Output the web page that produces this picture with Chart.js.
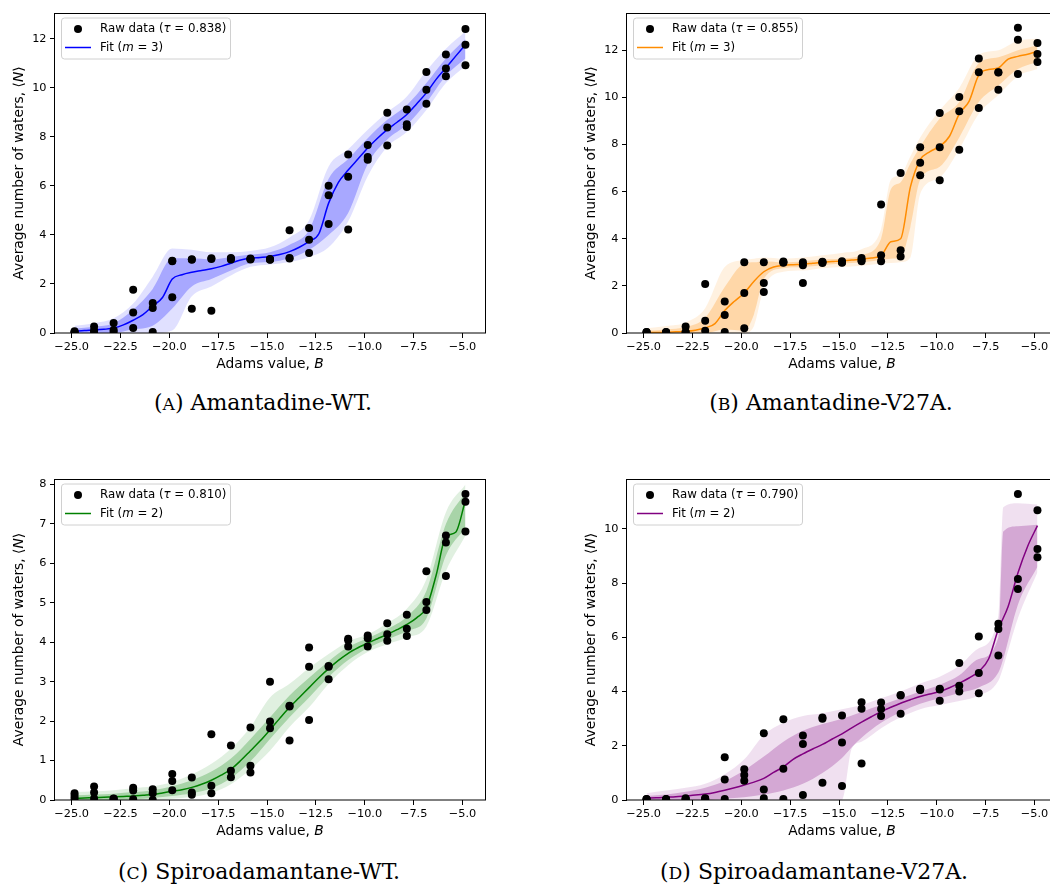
<!DOCTYPE html>
<html>
<head>
<meta charset="utf-8">
<script src="https://cdn.jsdelivr.net/npm/chart.js@4.4.1/dist/chart.umd.min.js"></script>
<style>
  body { margin: 0; background: #fff; width: 1050px; height: 889px; overflow: hidden; position: relative; }
  canvas { position: absolute; }
  .cap { position: absolute; font-family: "DejaVu Serif", serif; font-size: 22px; line-height: 1; color: #000;
         white-space: nowrap; transform: translateX(-50%); }
  .sc { font-size: 0.78em; }
</style>
</head>
<body>
<canvas id="cA" width="490" height="372" style="left:0;top:0"></canvas>
<canvas id="cB" width="490" height="372" style="left:572px;top:0"></canvas>
<canvas id="cC" width="490" height="373" style="left:0;top:466px"></canvas>
<canvas id="cD" width="490" height="373" style="left:572px;top:466px"></canvas>
<div class="cap" style="left:263px;top:392px">(<span class="sc">A</span>) Amantadine-WT.</div>
<div class="cap" style="left:831px;top:392px">(<span class="sc">B</span>) Amantadine-V27A.</div>
<div class="cap" style="left:259px;top:861px">(<span class="sc">C</span>) Spiroadamantane-WT.</div>
<div class="cap" style="left:814px;top:861px">(<span class="sc">D</span>) Spiroadamantane-V27A.</div>
<script>
// Adams values where the simulations were run (three replicates each)
const adamsB = [-24.85, -23.85, -22.85, -21.85, -20.85, -19.85, -18.85, -17.85, -16.85, -15.85, -14.85,
                -13.85, -12.85, -11.85, -10.85, -9.85, -8.85, -7.85, -6.85, -5.85, -4.85];
// finer grid for the fitted curves
const fitX = [-24.85, -24.35, -23.85, -23.35, -22.85, -22.35, -21.85, -21.35, -20.85, -20.35, -19.85,
              -19.35, -18.85, -18.35, -17.85, -17.35, -16.85, -16.35, -15.85, -15.35, -14.85, -14.35,
              -13.85, -13.35, -12.85, -12.35, -11.85, -11.35, -10.85, -10.35, -9.85, -9.35, -8.85,
              -8.35, -7.85, -7.35, -6.85, -6.35, -5.85, -5.35, -4.85];

// (A) Amantadine-WT
const rawA = [[0.07, 0.04, 0.02], [0.27, 0.1, 0.04], [0.41, 0.12, 0.05], [1.77, 0.84, 0.2], [1.22, 1.02, 0.04],
  [2.93, 2.95, 1.46], [2.99, 3.01, 0.99], [3.02, 3.05, 0.91], [3.03, 3.06, 3.0], [3.02, 3.0, 3.04],
  [2.99, 3.0, 3.02], [4.19, 3.06, 3.04], [4.29, 3.81, 3.27], [6.01, 5.62, 4.45], [7.28, 6.38, 4.22],
  [7.67, 7.18, 7.07], [8.99, 8.39, 7.65], [9.12, 8.52, 8.41], [10.65, 9.93, 9.36], [11.37, 10.79, 10.48],
  [12.41, 11.76, 10.93]];
const fitA = [0.07, 0.1, 0.12, 0.15, 0.2, 0.33, 0.52, 0.75, 1.1, 1.45, 2.2, 2.38, 2.48, 2.55, 2.62, 2.72,
  2.85, 2.98, 3.05, 3.08, 3.12, 3.2, 3.32, 3.5, 3.74, 4.05, 5.3, 6.15, 6.65, 7.1, 7.55, 7.95, 8.3, 8.6,
  8.92, 9.35, 9.8, 10.35, 10.82, 11.3, 11.77];
const sig1LoA = [0, 0, 0, 0.15, 0.3, 1.0, 1.9, 2.2, 2.55, 2.85, 2.9, 3.05, 3.4, 4.0, 4.9, 6.9, 7.9, 8.5, 9.4, 10.5, 11.2];
const sig1HiA = [0.18, 0.25, 0.4, 0.95, 1.8, 3.05, 3.05, 3.0, 3.1, 3.2, 3.3, 3.6, 4.2, 6.3, 7.1, 7.95, 8.7, 9.3, 10.2, 11.2, 12.0];
const sig2LoA = [0, 0, 0, 0, 0, 0.1, 1.5, 1.9, 2.35, 2.7, 2.8, 2.9, 3.1, 3.5, 4.55, 6.4, 7.6, 8.2, 9.1, 10.2, 10.9];
const sig2HiA = [0.3, 0.4, 0.6, 1.2, 2.3, 3.45, 3.4, 3.3, 3.3, 3.35, 3.5, 3.9, 4.6, 6.8, 7.5, 8.3, 9.0, 9.65, 10.7, 11.6, 12.3];

// (B) Amantadine-V27A
const rawB = [[0.04, 0.03, 0.02], [0.04, 0.03, 0.02], [0.28, 0.04, 0.03], [2.08, 0.52, 0.1], [1.34, 0.76, 0.04],
  [3.0, 1.7, 0.2], [3.0, 2.12, 1.74], [3.0, 3.03, 2.98], [3.0, 2.87, 2.12], [3.0, 2.97, 3.02],
  [3.04, 2.98, 3.0], [3.18, 3.04, 3.1], [5.45, 3.3, 3.04], [6.79, 3.51, 3.25], [7.88, 7.22, 6.69],
  [9.34, 7.88, 6.48], [10.02, 9.41, 7.78], [11.65, 11.07, 9.55], [11.07, 11.05, 10.32], [12.95, 12.45, 10.99],
  [12.31, 11.84, 11.5]];
const fitB = [0.02, 0.02, 0.03, 0.05, 0.07, 0.12, 0.22, 0.4, 0.95, 1.35, 1.7, 2.2, 2.6, 2.8, 2.87, 2.9,
  2.92, 2.96, 3.0, 3.03, 3.06, 3.1, 3.13, 3.18, 3.28, 3.87, 4.0, 6.2, 7.35, 7.7, 7.92, 8.35, 9.3, 9.83,
  10.95, 11.18, 11.25, 11.62, 11.74, 11.83, 11.96];
const bandXB = [-24.85, -23.85, -22.85, -21.85, -20.85, -19.85, -19.35, -18.85, -17.85, -16.85, -15.85, -14.85,
  -13.85, -12.85, -12.35, -11.85, -11.35, -10.85, -9.85, -8.85, -7.85, -6.85, -5.85, -4.85];
const sig1LoB = [0, 0, 0, 0, 0.15, 0.1, 0.8, 2.3, 2.75, 2.8, 2.88, 2.95, 3.0, 3.1, 3.15, 3.2, 4.5, 6.5, 7.05, 8.3, 9.8, 10.5, 11.2, 11.5];
const sig1HiB = [0.1, 0.15, 0.25, 0.65, 1.95, 2.95, 3.0, 3.05, 3.0, 3.05, 3.12, 3.15, 3.3, 4.0, 6.1, 6.4, 7.2, 7.9, 9.1, 9.8, 11.45, 11.7, 12.0, 12.2];
const sig2LoB = [0, 0, 0, 0, 0, 0, 0.3, 1.9, 2.6, 2.65, 2.75, 2.8, 2.85, 2.95, 2.97, 3.0, 3.2, 5.9, 6.6, 7.8, 9.3, 10.1, 10.9, 11.2];
const sig2HiB = [0.2, 0.3, 0.45, 1.05, 2.8, 3.1, 3.15, 3.2, 3.15, 3.2, 3.3, 3.4, 3.55, 4.4, 6.5, 6.7, 7.5, 8.3, 9.45, 10.4, 11.8, 12.0, 12.4, 12.5];

// (C) Spiroadamantane-WT
const rawC = [[0.17, 0.1, 0.03], [0.34, 0.19, 0.04], [0.04, 0.03, 0.02], [0.31, 0.24, 0.02], [0.27, 0.17, 0.0],
  [0.66, 0.48, 0.25], [0.57, 0.19, 0.13], [1.67, 0.36, 0.17], [1.38, 0.74, 0.58], [1.84, 0.87, 0.7],
  [3.0, 1.99, 1.82], [2.39, 2.37, 1.51], [3.87, 3.38, 2.03], [3.38, 3.4, 3.06], [4.09, 3.89, 4.05],
  [4.17, 4.1, 3.89], [4.48, 4.2, 4.04], [4.7, 4.34, 4.16], [5.8, 5.02, 4.82], [6.71, 6.53, 5.68],
  [7.76, 7.56, 6.81]];
const fitC = [0.04, 0.05, 0.06, 0.07, 0.08, 0.09, 0.1, 0.12, 0.14, 0.18, 0.22, 0.26, 0.32, 0.4, 0.5, 0.63,
  0.78, 1.0, 1.25, 1.5, 1.78, 2.07, 2.35, 2.6, 2.85, 3.1, 3.33, 3.54, 3.72, 3.86, 3.98, 4.09, 4.2, 4.32,
  4.45, 4.62, 4.88, 5.7, 6.68, 6.79, 7.6];
const sig1LoC = [0, 0, 0, 0.02, 0.05, 0.1, 0.17, 0.3, 0.55, 0.98, 1.55, 2.1, 2.6, 3.12, 3.55, 3.85, 4.07, 4.28, 4.6, 6.2, 6.9];
const sig1HiC = [0.12, 0.14, 0.16, 0.2, 0.25, 0.35, 0.5, 0.72, 1.05, 1.55, 2.1, 2.65, 3.1, 3.52, 3.88, 4.1, 4.34, 4.65, 5.3, 7.0, 7.8];
const sig2LoC = [0, 0, 0, 0, 0, 0.03, 0.08, 0.18, 0.4, 0.78, 1.25, 1.85, 2.35, 2.95, 3.42, 3.75, 3.95, 4.12, 4.4, 5.8, 6.7];
const sig2HiC = [0.2, 0.22, 0.25, 0.3, 0.35, 0.45, 0.65, 0.92, 1.3, 1.85, 2.6, 2.95, 3.35, 3.7, 4.02, 4.2, 4.48, 4.85, 5.6, 7.3, 8.0];

// (D) Spiroadamantane-V27A
const rawD = [[0.04, 0.03, 0.02], [0.04, 0.03, 0.02], [0.06, 0.04, 0.03], [0.06, 0.05, 0.03], [1.58, 0.76, 0.04],
  [1.13, 0.92, 0.71], [2.46, 0.39, 0.06], [2.98, 1.15, 0.04], [2.38, 2.07, 0.18], [3.04, 0.64, 3.0],
  [3.12, 2.12, 0.52], [3.61, 3.37, 1.35], [3.6, 3.36, 3.1], [3.85, 3.18, 3.87], [4.1, 4.06, 4.08],
  [4.1, 3.66, 4.08], [5.05, 4.21, 4.0], [6.03, 4.68, 3.94], [6.5, 6.31, 5.33], [11.29, 8.15, 7.78],
  [10.69, 9.26, 8.95]];
const fitD = [0.07, 0.08, 0.1, 0.12, 0.15, 0.18, 0.22, 0.28, 0.36, 0.45, 0.55, 0.66, 0.8, 1.02, 1.22, 1.5,
  1.7, 1.88, 2.05, 2.25, 2.44, 2.66, 2.87, 3.07, 3.26, 3.42, 3.57, 3.7, 3.82, 3.91, 4.0, 4.14, 4.31, 4.5,
  4.74, 5.2, 6.3, 7.14, 8.37, 9.36, 10.12];
const bandXD = [-24.85, -23.85, -22.85, -21.85, -20.85, -19.85, -18.85, -17.85, -16.85, -15.85, -14.85, -14.35,
  -13.85, -12.85, -11.85, -10.85, -9.85, -8.85, -7.85, -6.85, -6.6, -5.85, -4.85];
const sig1LoD = [0, 0, 0, 0, 0.05, 0.1, 0.2, 0.35, 0.6, 1.0, 1.55, 1.95, 2.3, 2.85, 3.25, 3.55, 3.75, 3.95, 4.15, 4.7, 5.2, 7.2, 8.6];
const sig1HiD = [0.15, 0.2, 0.3, 0.45, 0.7, 1.1, 1.6, 2.15, 2.55, 2.8, 3.0, 3.12, 3.25, 3.5, 3.75, 4.0, 4.25, 4.6, 5.2, 6.0, 9.9, 10.1, 10.15];
const sig2LoD = [0, 0, 0, 0, 0, 0, 0, 0, 0, 0, 0, 1.9, 2.15, 2.65, 3.05, 3.35, 3.5, 3.65, 3.85, 4.4, 4.9, 6.7, 8.4];
const sig2HiD = [0.25, 0.35, 0.45, 0.6, 0.95, 1.5, 2.4, 2.85, 3.1, 3.2, 3.35, 3.42, 3.5, 3.75, 4.0, 4.3, 4.55, 4.95, 5.6, 6.8, 10.8, 10.95, 10.9];

const SANS = '"DejaVu Sans", sans-serif';

function xy(xs, ys) {
  return xs.map((x, i) => ({ x: x, y: ys[i] }));
}

// draws a string made of [text, italic] pieces, vertically centred on y
function richText(ctx, segs, x, y, size, align) {
  const fonts = segs.map(s => (s[1] ? 'italic ' : '') + size + 'px ' + SANS);
  let total = 0;
  const widths = segs.map((s, i) => {
    ctx.font = fonts[i];
    const w = ctx.measureText(s[0]).width;
    total += w;
    return w;
  });
  let cx = align === 'center' ? x - total / 2 : x;
  ctx.textAlign = 'left';
  ctx.textBaseline = 'middle';
  ctx.fillStyle = '#000';
  segs.forEach((s, i) => {
    ctx.font = fonts[i];
    ctx.fillText(s[0], cx, y);
    cx += widths[i];
  });
}

// frame, axis labels and the in-axes legend
const framePlugin = {
  id: 'frame',
  afterDraw(chart, args, o) {
    const ctx = chart.ctx;
    const a = chart.chartArea;
    ctx.save();

    ctx.strokeStyle = '#000';
    ctx.lineWidth = 1;
    ctx.strokeRect(Math.round(a.left) - 0.5, Math.round(a.top) + 0.5,
                   Math.round(a.right - a.left) + 1, Math.round(a.bottom - a.top) - 0.5);

    richText(ctx, [['Adams value, ', false], ['B', true]], (a.left + a.right) / 2, a.bottom + 31, 13.8, 'center');
    ctx.save();
    ctx.translate(a.left - 36, (a.top + a.bottom) / 2);
    ctx.rotate(-Math.PI / 2);
    richText(ctx, [['Average number of waters, \u27E8', false], ['N', true], ['\u27E9', false]], 0, 0, 13.8, 'center');
    ctx.restore();

    // legend box
    const bx = a.left + 6.5, by = a.top + 5, bw = 169, bh = 41, r = 3;
    ctx.beginPath();
    ctx.moveTo(bx + r, by);
    ctx.arcTo(bx + bw, by, bx + bw, by + bh, r);
    ctx.arcTo(bx + bw, by + bh, bx, by + bh, r);
    ctx.arcTo(bx, by + bh, bx, by, r);
    ctx.arcTo(bx, by, bx + bw, by, r);
    ctx.closePath();
    ctx.fillStyle = 'rgba(255,255,255,0.8)';
    ctx.fill();
    ctx.strokeStyle = '#d0d0d0';
    ctx.stroke();

    ctx.beginPath();
    ctx.arc(a.left + 23, a.top + 16, 4, 0, Math.PI * 2);
    ctx.fillStyle = '#000';
    ctx.fill();
    richText(ctx, [['Raw data (', false], ['\u03C4', true], [' = ' + o.tau + ')', false]], a.left + 45, a.top + 16, 11.8);

    ctx.beginPath();
    ctx.moveTo(a.left + 10, a.top + 34.5);
    ctx.lineTo(a.left + 36, a.top + 34.5);
    ctx.strokeStyle = o.color;
    ctx.lineWidth = 1.5;
    ctx.stroke();
    richText(ctx, [['Fit (', false], ['m', true], [' = ' + o.m + ')', false]], a.left + 45, a.top + 34.5, 11.8);

    ctx.restore();
  }
};

function makePanel(id, p) {
  const raw = [];
  adamsB.forEach((x, i) => p.raw[i].forEach(y => raw.push({ x: x, y: y })));
  const band = { borderWidth: 0, pointRadius: 0, cubicInterpolationMode: 'monotone' };
  const bx = p.bandX || adamsB;

  new Chart(document.getElementById(id), {
    type: 'line',
    data: {
      datasets: [
        Object.assign({ data: xy(bx, p.lo2), fill: false, order: 6 }, band),
        Object.assign({ data: xy(bx, p.hi2), fill: '-1', backgroundColor: p.light, order: 5 }, band),
        Object.assign({ data: xy(bx, p.lo1), fill: false, order: 4 }, band),
        Object.assign({ data: xy(bx, p.hi1), fill: '-1', backgroundColor: p.dark, order: 3 }, band),
        { data: xy(fitX, p.fit), borderColor: p.color, borderWidth: 1.5, pointRadius: 0, fill: false,
          cubicInterpolationMode: 'monotone', order: 2 },
        { data: raw, showLine: false, pointRadius: 4, pointBackgroundColor: '#000', pointBorderWidth: 0, order: 1 }
      ]
    },
    options: {
      responsive: false,
      animation: false,
      layout: { padding: { top: 13, right: 5, left: 0, bottom: 0 } },
      plugins: {
        legend: { display: false },
        tooltip: { enabled: false },
        frame: { color: p.color, tau: p.tau, m: p.m }
      },
      scales: {
        x: {
          type: 'linear', min: -25.85, max: -3.85,
          afterFit: s => { s.height = 39; },
          border: { display: false },
          grid: { drawOnChartArea: false, drawTicks: true, tickLength: 5, color: '#000' },
          ticks: {
            stepSize: 2.5, includeBounds: false, autoSkip: false, maxRotation: 0, padding: 2,
            color: '#000', font: { family: SANS, size: 11.3 },
            callback: v => v.toFixed(1).replace('-', '\u2212')
          }
        },
        y: {
          min: 0, max: p.ymax,
          afterFit: s => { s.width = 55; },
          border: { display: false },
          grid: { drawOnChartArea: false, drawTicks: true, tickLength: 5, color: '#000' },
          ticks: {
            stepSize: p.ystep, includeBounds: false, autoSkip: false, padding: 3.5,
            color: '#000', font: { family: SANS, size: 11.3 },
            callback: v => String(v)
          }
        }
      }
    },
    plugins: [framePlugin]
  });
}

makePanel('cA', { raw: rawA, fit: fitA, lo1: sig1LoA, hi1: sig1HiA, lo2: sig2LoA, hi2: sig2HiA,
  color: '#0000ff', light: 'rgba(0,0,255,0.12)', dark: 'rgba(0,0,255,0.25)',
  ymax: 13.06, ystep: 2, tau: '0.838', m: 3 });
makePanel('cB', { raw: rawB, fit: fitB, bandX: bandXB, lo1: sig1LoB, hi1: sig1HiB, lo2: sig2LoB, hi2: sig2HiB,
  color: '#ff8c00', light: 'rgba(255,140,0,0.12)', dark: 'rgba(255,140,0,0.25)',
  ymax: 13.58, ystep: 2, tau: '0.855', m: 3 });
makePanel('cC', { raw: rawC, fit: fitC, lo1: sig1LoC, hi1: sig1HiC, lo2: sig2LoC, hi2: sig2HiC,
  color: '#008000', light: 'rgba(0,128,0,0.12)', dark: 'rgba(0,128,0,0.25)',
  ymax: 8.14, ystep: 1, tau: '0.810', m: 2 });
makePanel('cD', { raw: rawD, fit: fitD, bandX: bandXD, lo1: sig1LoD, hi1: sig1HiD, lo2: sig2LoD, hi2: sig2HiD,
  color: '#800080', light: 'rgba(128,0,128,0.12)', dark: 'rgba(128,0,128,0.25)',
  ymax: 11.84, ystep: 2, tau: '0.790', m: 2 });
</script>
</body>
</html>
